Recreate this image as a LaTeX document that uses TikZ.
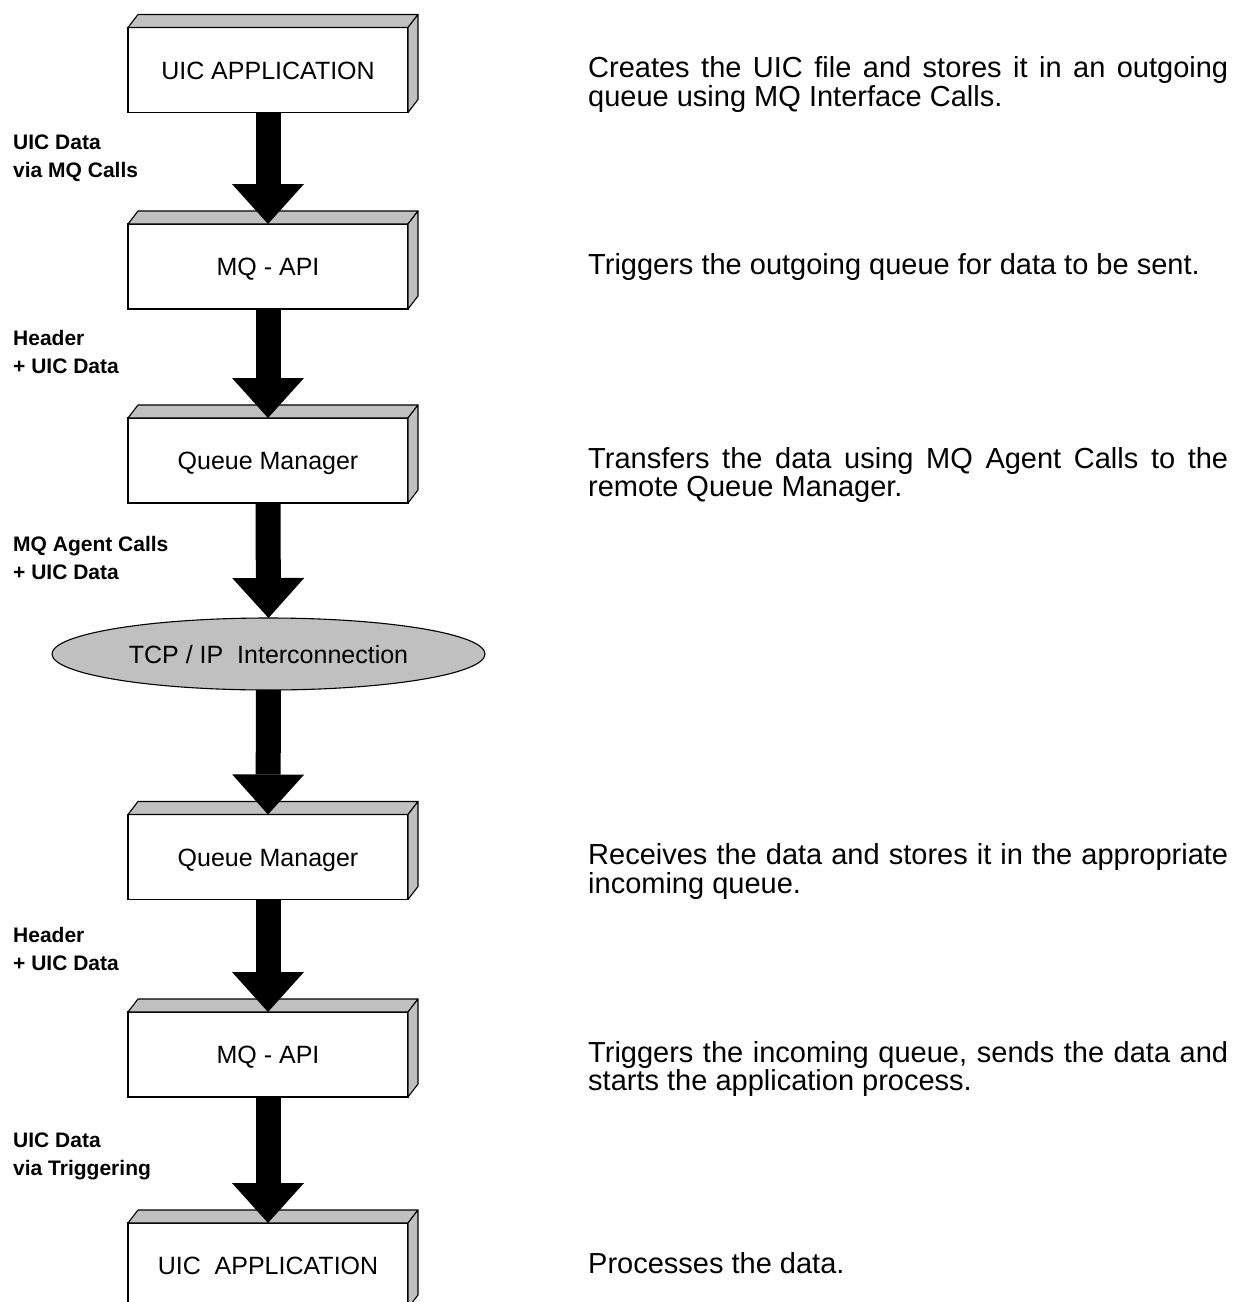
\documentclass[tikz,border=0pt]{standalone}
\usepackage{fontspec}
\setmainfont{Liberation Sans}
\usetikzlibrary{arrows.meta,shapes.geometric}
\definecolor{facegray}{HTML}{C0C0C0}
\hyphenpenalty=10000
\exhyphenpenalty=10000
\tolerance=9999
\emergencystretch=20pt
\newcommand\boxfaces[1]{%
  \filldraw[face] (#1.north west) -- ++(10,-13) -- ++(280,0) -- (#1.north east) -- cycle;
  \filldraw[face] (#1.north east) -- ++(10,-13) -- ([shift={(10,-13)}]#1.south east) -- (#1.south east) -- cycle;}
\begin{document}
\begin{tikzpicture}[x=1pt,y=-1pt,
  box/.style={draw, line width=1.1pt, fill=white, minimum width=280pt, minimum height=85pt,
    inner sep=0pt, outer sep=0pt, text height=18pt, text depth=0pt, font=\fontsize{25}{30}\selectfont},
  face/.style={draw, line width=1.1pt, fill=facegray, line join=round},
  flow/.style={line width=25pt, -{Triangle[width=72pt,length=40pt,line width=0pt]}},
  lbl/.style={anchor=north west, align=left, inner sep=0pt, font=\bfseries\fontsize{21}{28}\selectfont},
  desc/.style={anchor=north west, text width=640pt, align=justify, inner sep=0pt,
    font=\fontsize{29}{28.5}\selectfont}]
\useasboundingbox (0,0) rectangle (1239,1302);
\clip (0,0) rectangle (1239,1302);
\fill[white] (0,0) rectangle (1239,1302);

% boxes
\node[box] (b1) at (268,70) {UIC APPLICATION};
\boxfaces{b1}
\node[box] (b2) at (268,266.5) {MQ - API};
\boxfaces{b2}
\node[box] (b3) at (268,460.5) {Queue Manager};
\boxfaces{b3}
\node[draw, line width=1.1pt, fill=facegray, ellipse, minimum width=433pt, minimum height=72pt,
  inner sep=0pt, outer sep=0pt, text height=18pt, text depth=0pt, font=\fontsize{25}{30}\selectfont]
  (tcp) at (268.5,654) {TCP / IP\ \ Interconnection};
\node[box] (b4) at (268,857) {Queue Manager};
\boxfaces{b4}
\node[box] (b5) at (268,1054.5) {MQ - API};
\boxfaces{b5}
\node[box] (b6) at (268,1265.5) {UIC\ \ APPLICATION};
\boxfaces{b6}

% arrows
\draw[flow] (b1.south) -- (b2.north);
\draw[flow] (b2.south) -- (b3.north);
\draw[flow] (b3.south) -- (tcp.north);
\draw[flow] (tcp.south) -- (b4.north);
\draw[flow] (b4.south) -- (b5.north);
\draw[flow] (b5.south) -- (b6.north);

% arrow labels
\node[lbl] (l1) at (13,135) {UIC Data\\via MQ Calls};
\node[lbl] (l2) at (13,330) {Header\\+ UIC Data};
\node[lbl] (l3) at (13,536) {MQ Agent Calls\\+ UIC Data};
\node[lbl] (l4) at (13,927) {Header\\+ UIC Data};
\node[lbl] (l5) at (13,1133) {UIC Data\\via Triggering};

% descriptions
\node[desc] (d1) at (588,56.5) {Creates the UIC file and stores it in an outgoing queue using MQ Interface Calls.};
\node[desc] (d2) at (588,253) {Triggers the outgoing queue for data to be sent.};
\node[desc] (d3) at (588,447) {Transfers the data using MQ Agent Calls to the remote Queue Manager.};
\node[desc] (d4) at (588,843.5) {Receives the data and stores it in the appropriate incoming queue.};
\node[desc] (d5) at (588,1041) {Triggers the incoming queue, sends the data and starts the application process.};
\node[desc] (d6) at (588,1252) {Processes the data.};
\end{tikzpicture}
\end{document}
